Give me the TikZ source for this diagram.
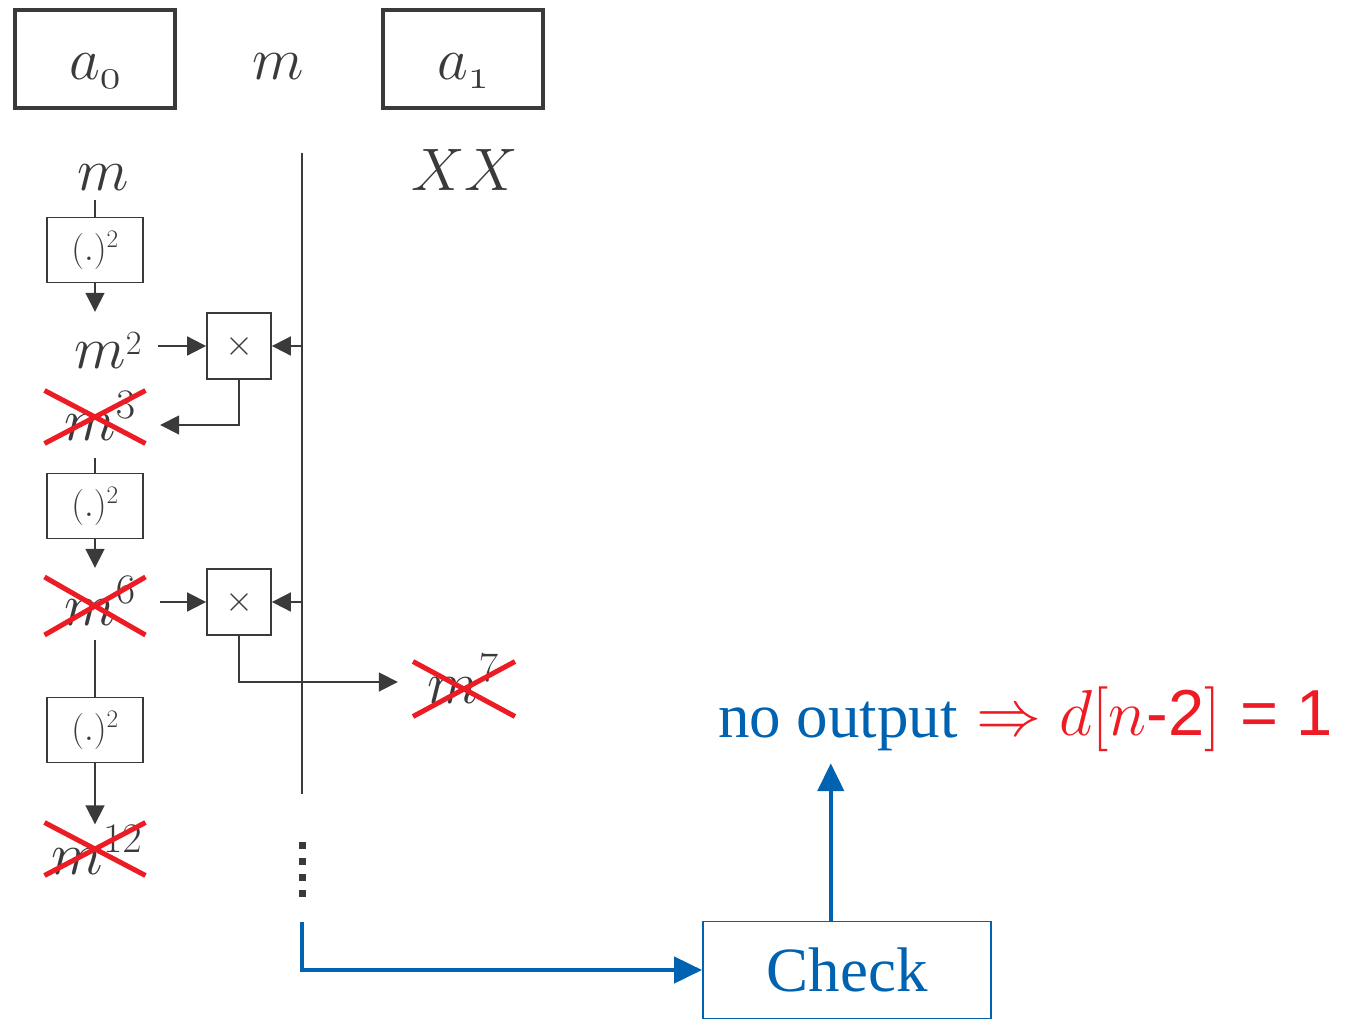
\RequirePackage{fix-cm}
\documentclass[tikz,border=0pt]{standalone}
\usepackage{fontspec}
\newfontfamily\serifb{Liberation Serif}
\newfontfamily\sansb{Liberation Sans}
\usetikzlibrary{arrows.meta,calc,shapes.misc}
\definecolor{dk}{RGB}{58,58,60}
\definecolor{bl}{RGB}{0,99,178}
\definecolor{rd}{RGB}{237,28,36}
\tikzset{
  bigbox/.style={draw=dk, line width=3.5pt, minimum width=160pt, minimum height=98pt, inner sep=0pt, text height=70pt, text depth=28pt, text=dk, font=\fontsize{60}{60}\selectfont},
  sqbox/.style={draw=dk, line width=1.8pt, minimum width=96pt, minimum height=65pt, inner sep=0pt, text=dk, font=\fontsize{36}{36}\selectfont},
  mulbox/.style={draw=dk, line width=1.8pt, minimum width=64pt, minimum height=66pt, inner sep=0pt, text=dk, font=\fontsize{36}{36}\selectfont},
  lab/.style={inner sep=0pt, text=dk, font=\fontsize{60}{60}\selectfont},
  crossx/.style={cross out, draw=rd, line width=5pt, inner sep=0pt},
  ln/.style={draw=dk, line width=1.8pt},
  arr/.style={draw=dk, line width=1.8pt, -{Triangle[length=19pt,width=19pt]}},
  barr/.style={draw=bl, line width=4.5pt, -{Triangle[length=28pt,width=26pt]}},
}
\begin{document}
\begin{tikzpicture}[x=1pt,y=-1pt]
\useasboundingbox (0,0) rectangle (1346,1019);
% top row
\node[bigbox] (a0) at (95,59) {$a_{\mathnormal{0}}$};
\node[lab, anchor=base] (mtop) at (278,80) {$m$};
\node[bigbox] (a1) at (463,59) {$a_{\mathnormal{1}}$};
\node[lab, anchor=base] (xx) at (465,190) {$XX$};
% vertical line
\coordinate (vtop) at (302,153);
\coordinate (vbot) at (302,794);
\draw[ln] (vtop) -- (vbot);
% left chain
\node[lab, minimum width=60pt, text height=40pt, text depth=10pt] (m0) at (103,175) {$m$};
\node[sqbox] (sq1) at (95,250) {$(.)^2$};
\node[lab, minimum width=100pt, text height=56pt, text depth=10pt] (m2) at (108,345) {$m$\raisebox{14pt}{\fontsize{34}{34}\selectfont 2}};
\node[mulbox] (mul1) at (239,346) {$\times$};
\node[lab, minimum width=120pt, text height=48pt, text depth=18pt] (m3) at (100,425) {$m^3$};
\node[sqbox] (sq2) at (95,506) {$(.)^2$};
\node[lab, minimum width=120pt, text height=57pt, text depth=15pt] (m6) at (100,604) {$m^6$};
\node[mulbox] (mul2) at (239,602) {$\times$};
\node[lab, minimum width=130pt, text height=53pt, text depth=11pt] (m7) at (463,682) {$m^7$};
\node[sqbox] (sq3) at (95,730) {$(.)^2$};
\node[lab, minimum width=110pt, text height=50pt, text depth=5pt] (m12) at (97,852) {$m^{12}$};
% crosses
\node[crossx, minimum width=96pt, minimum height=48pt] (x3) at (95,417) {};
\node[crossx, minimum width=96pt, minimum height=53pt] (x6) at (95,606) {};
\node[crossx, minimum width=97pt, minimum height=50pt] (x7) at (464,689) {};
\node[crossx, minimum width=96pt, minimum height=48pt] (x12) at (95,849) {};
% connectors
\draw[ln] (sq1.north) -- (sq1.north |- m0.south);
\draw[arr] (sq1.south) -- (sq1.south |- m2.north);
\draw[arr] (mul1.west -| m2.east) -- (mul1.west);
\draw[arr] (mul1.east -| vtop) -- (mul1.east);
\draw[arr] (mul1.south) |- (m3.east);
\draw[ln] (sq2.north) -- (sq2.north |- m3.south);
\draw[arr] (sq2.south) -- (sq2.south |- m6.north);
\draw[arr] (mul2.west -| m6.east) -- (mul2.west);
\draw[arr] (mul2.east -| vtop) -- (mul2.east);
\draw[arr] (mul2.south) |- (m7.west);
\draw[ln] (sq3.north) -- (sq3.north |- m6.south);
\draw[arr] (sq3.south) -- (sq3.south |- m12.north);
% dots
\coordinate (dtop) at (302,842);
\coordinate (dbot) at (302,898);
\draw[draw=dk, line width=7pt, dash pattern=on 7pt off 9pt] (dtop) -- (dbot);
% check
\node[draw=bl, line width=1.8pt, minimum width=288pt, minimum height=97pt, inner sep=0pt, text=bl, font=\serifb\fontsize{63}{63}\selectfont] (check) at (847,970) {Check};
\coordinate (btop) at (302,922);
\draw[barr] (btop) |- (check.west);
\node[inner sep=0pt, anchor=base, text height=40pt, text depth=26pt, text=bl, font=\serifb\fontsize{63}{63}\selectfont] (noout) at (838,737) {no output};
\coordinate (cup) at ($(check.north west)!0.444!(check.north east)$);
\draw[barr] (cup) -- (cup |- noout.south);
\node[inner sep=0pt, anchor=base west, text=rd, font=\fontsize{65}{65}\selectfont] (res) at (976,735) {$\Rightarrow d[n\hbox{\sansb -2}]$ {\sansb = 1}};
\end{tikzpicture}
\end{document}
